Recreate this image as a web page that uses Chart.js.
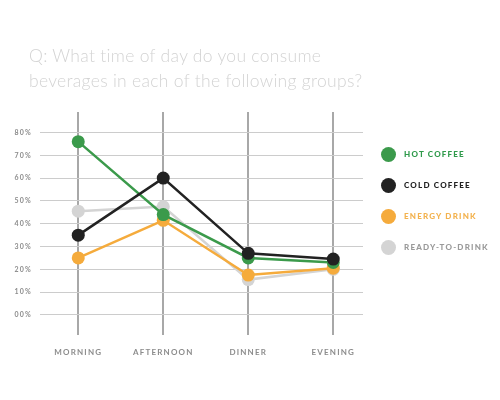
<!DOCTYPE html>
<html>
<head>
<meta charset="utf-8">
<script src="https://cdn.jsdelivr.net/npm/chart.js@4"></script>
<style>
  body { margin: 0; background: #fff; }
  #wrap { position: relative; width: 500px; height: 400px; }
  #chart { position: absolute; left: 0; top: 0; }
  #title { position: absolute; left: 29px; top: 43px; font-family: Lato, sans-serif; font-weight: 300;
           font-size: 17.5px; line-height: 25px; color: #d3d3d3; letter-spacing: 0.3px; }
  #legend { position: absolute; left: 381px; top: 147px; list-style: none; margin: 0; padding: 0; }
  #legend li { height: 31px; display: flex; align-items: flex-start; }
  #legend .dot { width: 15px; height: 15px; border-radius: 50%; margin-right: 8px; }
  #legend .name { font-family: Lato, sans-serif; font-weight: 900; font-size: 8px; letter-spacing: 1.2px;
                  line-height: 15px; }
</style>
</head>
<body>
<div id="wrap">
  <canvas id="chart" width="500" height="400"></canvas>
  <div id="title">Q: What time of day do you consume<br>beverages in each of the following groups?</div>
  <ul id="legend"></ul>
</div>
<script>
// == Data ==
const times = ["MORNING", "AFTERNOON", "DINNER", "EVENING"];
const hotCoffee = [76, 44, 25, 23];
const coldCoffee = [35, 60, 27, 24.5];
const energyDrink = [25, 41.5, 17.5, 20.5];
const readyToDrink = [45.5, 47.5, 15.5, 20];
const yTicks = [0, 10, 20, 30, 40, 50, 60, 70, 80];

const seriesNames = ["HOT COFFEE", "COLD COFFEE", "ENERGY DRINK", "READY-TO-DRINK"];
const seriesColors = ["#3b9a4b", "#222222", "#f5ab3c", "#d4d4d4"];
const legendTextColors = ["#2f9a4b", "#222222", "#f3b24e", "#9a9a9a"];
const drawOrder = [1, 0, 2, 3];

// == Legend ==
document.getElementById('legend').innerHTML = seriesNames.map((name, i) => `
  <li><span class="dot" style="background:${seriesColors[i]}"></span>
  <span class="name" style="color:${legendTextColors[i]}">${name}</span></li>`).join('');

// == Chart ==
const allSeries = [hotCoffee, coldCoffee, energyDrink, readyToDrink];
const datasets = allSeries.map((values, i) => ({
    label: seriesNames[i],
    data: values.map((v, j) => ({ x: j, y: v })),
    borderColor: seriesColors[i],
    backgroundColor: seriesColors[i],
    borderWidth: 2.5,
    pointRadius: 6.5,
    pointHoverRadius: 6.5,
    pointBorderWidth: 0,
    order: drawOrder[i]
}));

// canvas text gets a bit of tracking, like the original
const spacing = {
    id: 'spacing',
    beforeDraw(chart) { chart.ctx.letterSpacing = '1.2px'; }
};

new Chart(document.getElementById('chart'), {
    type: 'line',
    data: { datasets },
    plugins: [spacing],
    options: {
        responsive: false,
        animation: false,
        layout: { padding: { left: 0, top: 112, right: 137, bottom: 0 } },
        plugins: { legend: { display: false }, tooltip: { enabled: false } },
        scales: {
            x: {
                type: 'linear',
                min: -0.45,
                max: 3.35,
                afterBuildTicks: scale => { scale.ticks = times.map((t, i) => ({ value: i })); },
                afterFit: scale => { scale.height = 65; },
                grid: { color: '#a8a8a8', lineWidth: 2, drawTicks: false },
                border: { display: false },
                ticks: {
                    padding: 13,
                    color: '#8c8c8c',
                    font: { family: 'Lato', weight: 'bold', size: 8 },
                    callback: value => times[value]
                }
            },
            y: {
                min: -8.8,
                max: 89,
                afterBuildTicks: scale => { scale.ticks = yTicks.map(v => ({ value: v })); },
                afterFit: scale => { scale.width = 40; },
                grid: { color: '#cccccc', lineWidth: 1, drawTicks: false },
                border: { display: false },
                ticks: {
                    padding: 8,
                    color: '#8c8c8c',
                    font: { family: 'Lato', weight: 'bold', size: 7 },
                    callback: value => (value === 0 ? '00' : value) + '%'
                }
            }
        }
    }
});
</script>
</body>
</html>
